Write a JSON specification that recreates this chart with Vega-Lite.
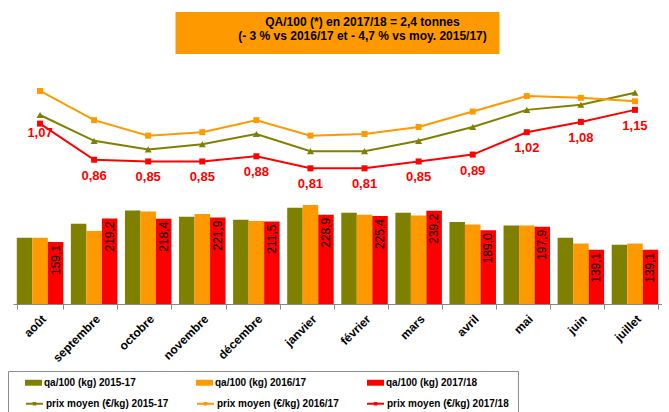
{
  "$schema": "https://vega.github.io/schema/vega-lite/v6.json",
  "padding": {"left": 7, "top": 12, "right": 0, "bottom": 0},
  "background": "white",
  "config": {
    "locale": {"number": {"decimal": ",", "thousands": " ", "grouping": [3], "currency": ["", " €"]}},
    "view": {"stroke": null},
    "font": "Liberation Sans"
  },
  "datasets": {
    "qa": [
      {"mois": "août", "serie": "qa/100 (kg) 2015-17", "qa": 170},
      {"mois": "août", "serie": "qa/100 (kg) 2016/17", "qa": 170},
      {"mois": "août", "serie": "qa/100 (kg) 2017/18", "qa": 159.1},
      {"mois": "septembre", "serie": "qa/100 (kg) 2015-17", "qa": 206},
      {"mois": "septembre", "serie": "qa/100 (kg) 2016/17", "qa": 187},
      {"mois": "septembre", "serie": "qa/100 (kg) 2017/18", "qa": 219.2},
      {"mois": "octobre", "serie": "qa/100 (kg) 2015-17", "qa": 240},
      {"mois": "octobre", "serie": "qa/100 (kg) 2016/17", "qa": 237},
      {"mois": "octobre", "serie": "qa/100 (kg) 2017/18", "qa": 218.4},
      {"mois": "novembre", "serie": "qa/100 (kg) 2015-17", "qa": 224},
      {"mois": "novembre", "serie": "qa/100 (kg) 2016/17", "qa": 231},
      {"mois": "novembre", "serie": "qa/100 (kg) 2017/18", "qa": 221.9},
      {"mois": "décembre", "serie": "qa/100 (kg) 2015-17", "qa": 216},
      {"mois": "décembre", "serie": "qa/100 (kg) 2016/17", "qa": 213},
      {"mois": "décembre", "serie": "qa/100 (kg) 2017/18", "qa": 211.5},
      {"mois": "janvier", "serie": "qa/100 (kg) 2015-17", "qa": 247},
      {"mois": "janvier", "serie": "qa/100 (kg) 2016/17", "qa": 254},
      {"mois": "janvier", "serie": "qa/100 (kg) 2017/18", "qa": 228.9},
      {"mois": "février", "serie": "qa/100 (kg) 2015-17", "qa": 234},
      {"mois": "février", "serie": "qa/100 (kg) 2016/17", "qa": 229},
      {"mois": "février", "serie": "qa/100 (kg) 2017/18", "qa": 225.4},
      {"mois": "mars", "serie": "qa/100 (kg) 2015-17", "qa": 234},
      {"mois": "mars", "serie": "qa/100 (kg) 2016/17", "qa": 227},
      {"mois": "mars", "serie": "qa/100 (kg) 2017/18", "qa": 239.2},
      {"mois": "avril", "serie": "qa/100 (kg) 2015-17", "qa": 210},
      {"mois": "avril", "serie": "qa/100 (kg) 2016/17", "qa": 204},
      {"mois": "avril", "serie": "qa/100 (kg) 2017/18", "qa": 189.0},
      {"mois": "mai", "serie": "qa/100 (kg) 2015-17", "qa": 201},
      {"mois": "mai", "serie": "qa/100 (kg) 2016/17", "qa": 201},
      {"mois": "mai", "serie": "qa/100 (kg) 2017/18", "qa": 197.9},
      {"mois": "juin", "serie": "qa/100 (kg) 2015-17", "qa": 170},
      {"mois": "juin", "serie": "qa/100 (kg) 2016/17", "qa": 155},
      {"mois": "juin", "serie": "qa/100 (kg) 2017/18", "qa": 139.1},
      {"mois": "juillet", "serie": "qa/100 (kg) 2015-17", "qa": 152},
      {"mois": "juillet", "serie": "qa/100 (kg) 2016/17", "qa": 155},
      {"mois": "juillet", "serie": "qa/100 (kg) 2017/18", "qa": 139.1}
    ],
    "prix": [
      {"mois": "août", "serie": "prix moyen  (€/kg) 2015-17", "prix": 1.12},
      {"mois": "septembre", "serie": "prix moyen  (€/kg) 2015-17", "prix": 0.97},
      {"mois": "octobre", "serie": "prix moyen  (€/kg) 2015-17", "prix": 0.92},
      {"mois": "novembre", "serie": "prix moyen  (€/kg) 2015-17", "prix": 0.95},
      {"mois": "décembre", "serie": "prix moyen  (€/kg) 2015-17", "prix": 1.01},
      {"mois": "janvier", "serie": "prix moyen  (€/kg) 2015-17", "prix": 0.91},
      {"mois": "février", "serie": "prix moyen  (€/kg) 2015-17", "prix": 0.91},
      {"mois": "mars", "serie": "prix moyen  (€/kg) 2015-17", "prix": 0.97},
      {"mois": "avril", "serie": "prix moyen  (€/kg) 2015-17", "prix": 1.05},
      {"mois": "mai", "serie": "prix moyen  (€/kg) 2015-17", "prix": 1.15},
      {"mois": "juin", "serie": "prix moyen  (€/kg) 2015-17", "prix": 1.18},
      {"mois": "juillet", "serie": "prix moyen  (€/kg) 2015-17", "prix": 1.25},
      {"mois": "août", "serie": "prix moyen  (€/kg) 2016/17", "prix": 1.26},
      {"mois": "septembre", "serie": "prix moyen  (€/kg) 2016/17", "prix": 1.09},
      {"mois": "octobre", "serie": "prix moyen  (€/kg) 2016/17", "prix": 1.00},
      {"mois": "novembre", "serie": "prix moyen  (€/kg) 2016/17", "prix": 1.02},
      {"mois": "décembre", "serie": "prix moyen  (€/kg) 2016/17", "prix": 1.09},
      {"mois": "janvier", "serie": "prix moyen  (€/kg) 2016/17", "prix": 1.00},
      {"mois": "février", "serie": "prix moyen  (€/kg) 2016/17", "prix": 1.01},
      {"mois": "mars", "serie": "prix moyen  (€/kg) 2016/17", "prix": 1.05},
      {"mois": "avril", "serie": "prix moyen  (€/kg) 2016/17", "prix": 1.14},
      {"mois": "mai", "serie": "prix moyen  (€/kg) 2016/17", "prix": 1.23},
      {"mois": "juin", "serie": "prix moyen  (€/kg) 2016/17", "prix": 1.22},
      {"mois": "juillet", "serie": "prix moyen  (€/kg) 2016/17", "prix": 1.20},
      {"mois": "août", "serie": "prix moyen  (€/kg) 2017/18", "prix": 1.07},
      {"mois": "septembre", "serie": "prix moyen  (€/kg) 2017/18", "prix": 0.86},
      {"mois": "octobre", "serie": "prix moyen  (€/kg) 2017/18", "prix": 0.85},
      {"mois": "novembre", "serie": "prix moyen  (€/kg) 2017/18", "prix": 0.85},
      {"mois": "décembre", "serie": "prix moyen  (€/kg) 2017/18", "prix": 0.88},
      {"mois": "janvier", "serie": "prix moyen  (€/kg) 2017/18", "prix": 0.81},
      {"mois": "février", "serie": "prix moyen  (€/kg) 2017/18", "prix": 0.81},
      {"mois": "mars", "serie": "prix moyen  (€/kg) 2017/18", "prix": 0.85},
      {"mois": "avril", "serie": "prix moyen  (€/kg) 2017/18", "prix": 0.89},
      {"mois": "mai", "serie": "prix moyen  (€/kg) 2017/18", "prix": 1.02},
      {"mois": "juin", "serie": "prix moyen  (€/kg) 2017/18", "prix": 1.08},
      {"mois": "juillet", "serie": "prix moyen  (€/kg) 2017/18", "prix": 1.15}
    ],
    "titre": [
      {"ligne": 1, "texte": "QA/100 (*) en 2017/18 = 2,4 tonnes"},
      {"ligne": 2, "texte": "(- 3 %  vs 2016/17 et - 4,7 %  vs moy.  2015/17)"}
    ]
  },
  "vconcat": [
    {
      "width": 324,
      "height": 42,
      "view": {"fill": "#FF9900", "stroke": null},
      "data": {"name": "titre"},
      "mark": {"type": "text", "font": "Liberation Sans", "fontWeight": "bold", "fontSize": 12, "color": "black", "dx": 25, "baseline": "middle"},
      "encoding": {
        "y": {"field": "ligne", "type": "ordinal", "axis": null, "scale": {"type": "point", "padding": 1.115, "align": 0.345}},
        "text": {"field": "texte"}
      }
    },
    {
      "width": 649,
      "height": 244,
      "resolve": {"scale": {"y": "independent"}},
      "encoding": {
        "x": {
          "field": "mois", "type": "nominal",
          "sort": ["août", "septembre", "octobre", "novembre", "décembre", "janvier", "février", "mars", "avril", "mai", "juin", "juillet"],
          "scale": {"paddingInner": 0.14, "paddingOuter": 0.07},
          "axis": {"title": null, "labelAngle": -45, "labelFont": "Liberation Sans", "labelFontWeight": "bold", "labelFontSize": 12, "labelColor": "black", "domainColor": "#888888", "tickColor": "#888888", "tickSize": 5, "tickBand": "extent", "labelPadding": 4, "grid": false}
        }
      },
      "layer": [
        {
          "data": {"name": "qa"},
          "encoding": {
            "xOffset": {"field": "serie", "type": "nominal", "sort": ["qa/100 (kg) 2015-17", "qa/100 (kg) 2016/17", "qa/100 (kg) 2017/18"], "scale": {"paddingInner": 0, "paddingOuter": 0}},
            "y": {"field": "qa", "type": "quantitative", "scale": {"domain": [0, 625.6], "nice": false}, "axis": null}
          },
          "layer": [
            {
              "mark": {"type": "bar"},
              "encoding": {
                "fill": {
                  "field": "serie", "type": "nominal",
                  "scale": {"domain": ["qa/100 (kg) 2015-17", "qa/100 (kg) 2016/17", "qa/100 (kg) 2017/18"], "range": ["#808000", "#FF9900", "#FF0000"]},
                  "legend": {"orient": "none", "legendX": 12, "legendY": 362, "direction": "horizontal", "columns": 3, "title": null, "symbolType": "M-1,-0.35H1V0.35H-1Z", "symbolSize": 289, "symbolStrokeWidth": 0, "symbolOpacity": 1, "labelFont": "Liberation Sans", "labelFontSize": 10, "labelFontWeight": "bold", "labelColor": "black", "labelOffset": 2, "columnPadding": 60, "padding": 0, "labelLimit": 300}
                }
              }
            },
            {
              "transform": [{"filter": "datum.serie === 'qa/100 (kg) 2017/18'"}],
              "mark": {"type": "text", "angle": 270, "align": "right", "baseline": "middle", "dx": -3, "fontSize": 12, "font": "Liberation Sans", "color": "black"},
              "encoding": {
                "text": {"field": "qa", "type": "quantitative", "format": ".1f"}
              }
            }
          ]
        },
        {
          "data": {"name": "prix"},
          "encoding": {
            "y": {"field": "prix", "type": "quantitative", "scale": {"domain": [0.021, 1.44], "nice": false, "zero": false}, "axis": null},
            "color": {
              "field": "serie", "type": "nominal",
              "scale": {"domain": ["prix moyen  (€/kg) 2015-17", "prix moyen  (€/kg) 2016/17", "prix moyen  (€/kg) 2017/18"], "range": ["#808000", "#FF9900", "#FF0000"]},
              "legend": {"orient": "none", "legendX": -5, "legendY": 359, "direction": "horizontal", "columns": 3, "title": " ", "titleFontSize": 11, "titlePadding": 6, "padding": 6, "strokeColor": "#8c8c8c", "symbolType": "M-1,0H1M-0.09,-0.09H0.09V0.09H-0.09Z", "symbolSize": 289, "symbolStrokeWidth": 2, "symbolOffset": 11, "labelFont": "Liberation Sans", "labelFontSize": 10, "labelFontWeight": "bold", "labelColor": "black", "labelOffset": 2, "columnPadding": 13, "labelLimit": 300}
            }
          },
          "layer": [
            {
              "transform": [{"filter": "datum.serie === 'prix moyen  (€/kg) 2015-17'"}],
              "mark": {"type": "line", "strokeWidth": 2, "point": {"shape": "triangle-up", "filled": true, "size": 50}}
            },
            {
              "transform": [{"filter": "datum.serie !== 'prix moyen  (€/kg) 2015-17'"}],
              "mark": {"type": "line", "strokeWidth": 2, "point": {"shape": "square", "filled": true, "size": 36}}
            },
            {
              "transform": [{"filter": "datum.serie === 'prix moyen  (€/kg) 2017/18' && datum.mois === 'août'"}],
              "mark": {"type": "text", "dy": 9, "fontSize": 13, "fontWeight": "bold", "font": "Liberation Sans", "color": "#FF0000", "baseline": "middle"},
              "encoding": {"color": {"value": "#FF0000"}, "text": {"field": "prix", "type": "quantitative", "format": ".2f"}}
            },
            {
              "transform": [{"filter": "datum.serie === 'prix moyen  (€/kg) 2017/18' && datum.mois !== 'août'"}],
              "mark": {"type": "text", "dy": 16, "fontSize": 13, "fontWeight": "bold", "font": "Liberation Sans", "color": "#FF0000", "baseline": "middle"},
              "encoding": {"color": {"value": "#FF0000"}, "text": {"field": "prix", "type": "quantitative", "format": ".2f"}}
            }
          ]
        }
      ]
    }
  ],
  "spacing": 6,
  "bounds": "flush",
  "center": true
}
